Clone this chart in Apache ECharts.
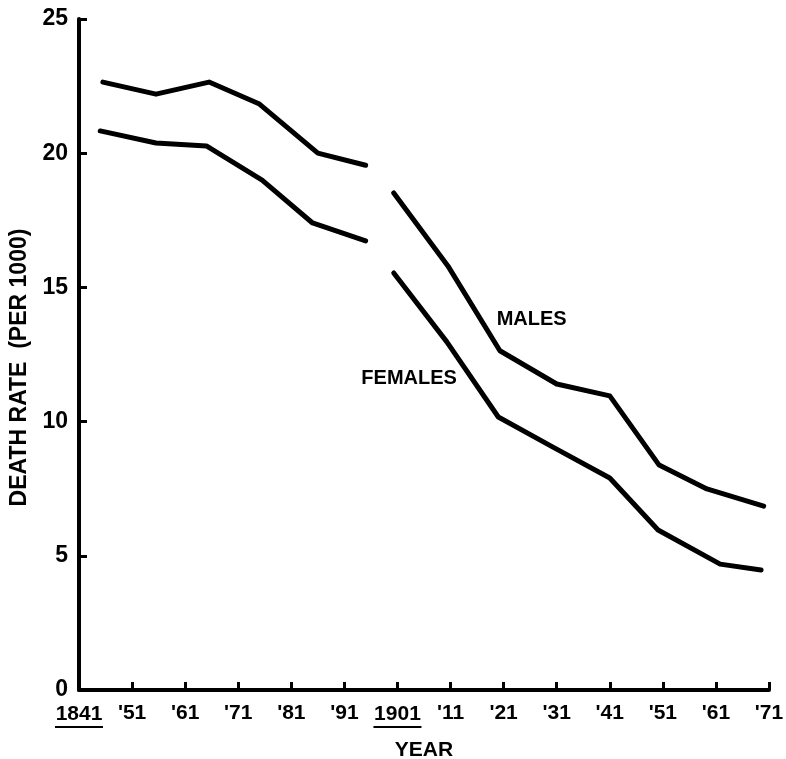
<!DOCTYPE html>
<html>
<head>
<meta charset="utf-8">
<script src="https://cdn.jsdelivr.net/npm/echarts@6/dist/echarts.min.js"></script>
<style>
html,body{margin:0;padding:0;background:#fff;}
#chart{width:786px;height:759px;}
</style>
</head>
<body>
<div id="chart"></div>
<script>
const baseYear = 1841;
const xLabels = ['1841', "'51", "'61", "'71", "'81", "'91", '1901', "'11", "'21", "'31", "'41", "'51", "'61", "'71"];
const underlinedLabels = ['1841', '1901'];
const yTicks = [0, 5, 10, 15, 20, 25];

const maleYears1 = [1845.5, 1855.5, 1865.5, 1875, 1886, 1895];
const maleRates1 = [22.65, 22.2, 22.65, 21.83, 20.0, 19.55];
const femaleYears1 = [1845, 1855.5, 1865, 1875.5, 1885, 1895];
const femaleRates1 = [20.83, 20.38, 20.27, 19.0, 17.4, 16.73];

const maleYears2 = [1900.3, 1910.5, 1920.3, 1931, 1941, 1950.3, 1959.3, 1970];
const maleRates2 = [18.52, 15.8, 12.64, 11.4, 10.96, 8.38, 7.49, 6.85];
const femaleYears2 = [1900.3, 1910.3, 1920, 1930.3, 1941, 1950.1, 1961.8, 1969.5];
const femaleRates2 = [15.54, 12.97, 10.17, 9.05, 7.9, 5.96, 4.69, 4.47];

const seriesLabels = [
  { text: 'MALES', year: 1919.6, rate: 13.8 },
  { text: 'FEMALES', year: 1894.1, rate: 11.62 }
];

function pairs(years, rates) {
  return years.map((y, i) => [y - baseYear, rates[i]]);
}

const FONT = '"Liberation Sans", Arial, sans-serif';

function lineSeries(name, years, rates, label) {
  const s = {
    name: name,
    type: 'line',
    data: pairs(years, rates),
    showSymbol: false,
    symbol: 'none',
    silent: true,
    lineStyle: { color: '#000', width: 5, cap: 'round', join: 'round' },
    animation: false
  };
  if (label) {
    s.markPoint = {
      symbol: 'circle',
      symbolSize: 1,
      itemStyle: { color: 'rgba(0,0,0,0)' },
      silent: true,
      data: [{
        coord: [label.year - baseYear, label.rate],
        label: {
          show: true,
          formatter: label.text,
          position: 'right',
          distance: 0,
          color: '#000',
          fontFamily: FONT,
          fontWeight: 'bold',
          fontSize: 20
        }
      }]
    };
  }
  return s;
}

const chart = echarts.init(document.getElementById('chart'), null, { renderer: 'canvas' });
chart.setOption({
  backgroundColor: '#fff',
  animation: false,
  grid: { left: 79, right: 17, top: 19, bottom: 69, containLabel: false, outerBoundsMode: 'none' },
  xAxis: {
    type: 'value',
    min: 0,
    max: (xLabels.length - 1) * 10,
    interval: 10,
    name: 'YEAR',
    nameLocation: 'middle',
    nameGap: 50,
    nameTextStyle: { color: '#000', fontFamily: FONT, fontWeight: 'bold', fontSize: 21 },
    axisLine: { show: true, lineStyle: { color: '#000', width: 4 } },
    axisTick: { show: true, inside: true, length: 8, lineStyle: { color: '#000', width: 3 } },
    splitLine: { show: false },
    axisLabel: {
      margin: 13,
      color: '#000',
      fontFamily: FONT,
      fontWeight: 'bold',
      fontSize: 21,
      formatter: function (v) {
        const t = xLabels[Math.round(v / 10)];
        if (underlinedLabels.indexOf(t) >= 0) return '{a|' + t + '}\n{u| }';
        return t;
      },
      rich: {
        a: { fontFamily: FONT, fontWeight: 'bold', fontSize: 21, color: '#000', lineHeight: 22 },
        u: { width: 48, height: 2, lineHeight: 4, fontSize: 2, backgroundColor: '#000' }
      }
    }
  },
  yAxis: {
    type: 'value',
    min: yTicks[0],
    max: yTicks[yTicks.length - 1],
    interval: yTicks[1] - yTicks[0],
    name: 'DEATH RATE  (PER 1000)',
    nameLocation: 'middle',
    nameGap: 47,
    nameTextStyle: { color: '#000', fontFamily: FONT, fontWeight: 'bold', fontSize: 23, padding: [0, 26, 0, 0] },
    axisLine: { show: true, lineStyle: { color: '#000', width: 4 } },
    axisTick: { show: true, inside: true, length: 8, lineStyle: { color: '#000', width: 3 } },
    splitLine: { show: false },
    axisLabel: { margin: 11, color: '#000', fontFamily: FONT, fontWeight: 'bold', fontSize: 23 }
  },
  series: [
    lineSeries('Males', maleYears1, maleRates1),
    lineSeries('Females', femaleYears1, femaleRates1),
    lineSeries('Males', maleYears2, maleRates2, seriesLabels[0]),
    lineSeries('Females', femaleYears2, femaleRates2, seriesLabels[1])
  ]
});
</script>
</body>
</html>
